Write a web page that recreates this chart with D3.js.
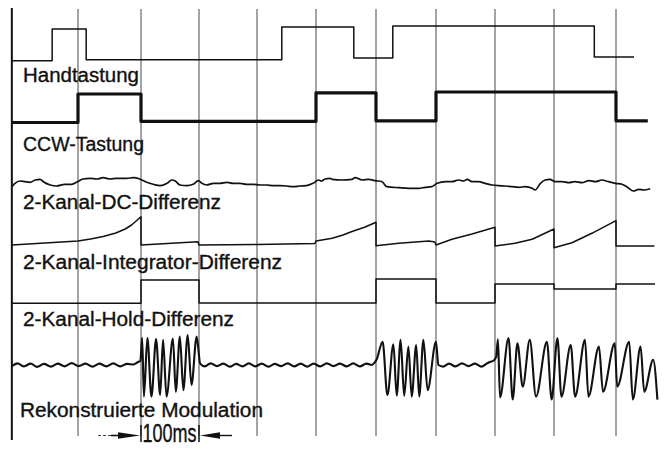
<!DOCTYPE html>
<html>
<head>
<meta charset="utf-8">
<script src="https://cdn.jsdelivr.net/npm/d3@7"></script>
<style>
body { margin: 0; background: #fff; }
svg { display: block; }
text { font-family: "Liberation Sans", Arial, sans-serif; fill: #111; stroke: #111; stroke-width: 0.35px; }
</style>
</head>
<body>
<div id="container"></div>
<script>
// one grid division = 100 ms
var gridTimes = [100, 200, 300, 400, 500, 600, 700, 800, 900, 1000];

// Handtastung (thin key signal), edge times and levels
var handEdges = [-5, 59, 113, 442, 563, 628, 965, 1030];
var handLevels = [0.01, 1.0, 0.04, 1.06, 0.09, 1.09, 0.125];

// CCW-Tastung (thick key signal)
var ccwEdges = [-5, 100, 200, 500, 600, 700, 1000, 1053];
var ccwLevels = [0, 1.0, 0.04, 1.04, 0.06, 1.07, 0.06];

// 2-Kanal-DC-Differenz
var dcTimes = [-5,0,8,16,24,32,40,45,56,66,79,90,99,108,119,130,140,151,161,177,
    188,198,210,221,233,245,253,259,267,279,290,299,305,313,325,336,348,359,371,382,
    394,405,416,428,439,450,461,473,484,495,504,509,515,523,527,543,560,565,577,588,
    599,610,618,638,655,671,682,693,702,716,727,738,747,753,761,772,783,795,806,817,
    829,840,851,863,868,877,885,893,902,913,924,934,945,956,967,977,988,999,1010,1018,
    1029,1038,1046,1057];
var dcValues = [13.3,16.7,19,18.3,17.7,20,20.7,18.3,15,14,15.7,15.7,18.3,21,21.7,21,22.3,21,21.7,21.7,
    22.3,21,17.7,15.7,14.3,16.7,20,19,15,14.3,15.7,19.3,16.7,15,16.7,16.7,17.7,16.7,16.7,15.7,
    15.7,15,15,14.3,14.3,14,13.3,14,14.3,16.7,20,19,21,21.7,20.7,20,20.7,22.3,20,20.7,
    19.3,18.3,13.3,12.3,11.7,11.7,12.7,13.3,16.7,18.3,18.3,20,19,20.7,18.3,18.3,16.7,15,14.3,14,
    13.3,12.7,13.3,11.7,10,16.7,20,20.7,18.3,18.3,17.3,18.3,17.3,19.3,18.3,20,18.3,16.7,15.7,13.3,
    9,10.7,10,11.3];

// 2-Kanal-Integrator-Differenz
var intTimes = [-5,100,120,140,160,175,185,195,200,200,298,300,400,498,500,527,545,560,582,600,
    600,638,688,698,700,727,761,800,800,834,863,900,900,929,961,1000,1000,1064];
var intValues = [5,9,11,13.5,17,21,25,30.5,33.3,5,8.3,5,5.5,6.5,9,11.7,15,18.5,23,27.7,
    4.3,6.7,9,8,5,10.7,16,22.7,4,6.7,10.7,21,2.3,7.3,16.7,29.3,4,4];

// 2-Kanal-Hold-Differenz
var holdEdges = [-5, 200, 300, 600, 700, 800, 900, 1000, 1065];
var holdLevels = [6.7, 30, 7, 31, 7, 26, 21, 26];

// Rekonstruierte Modulation
var modTimes = [-5,4,14,25,35,46,57,68,79,90,101,112,123,134,145,156,167,178,188,196,
    199,202,205,211,218,226,233,238,244,255,260,267,273,280.5,287,296,302,
    310,320,331,342,353,364,375,386,397,408,419,430,441,452,463,474,485,496,507,518,529,540,551,562,573,584,593,598,
    601,611,619,629,634.5,641,647,654,659.5,667,672,679,686,700,704,
    712,722,733,744,755,766,777,786,792,
    797,802,805,808.5,823,830,838,847,859,869.5,888,896,905.5,912,927,934,950,955.5,972.5,979,998,1002,1022,1028,1041,1047,1062,1069];
var modValues = [-0.04,0.06,-0.05,0.05,-0.07,0.04,-0.06,0.05,-0.05,0.07,-0.04,0.05,-0.06,0.05,-0.05,0.06,-0.05,0.04,0.02,0.12,
    0.15,1.01,-1.17,1.01,-1.17,0.96,-1.11,0.93,-1.17,0.98,-0.99,1.05,-0.93,1.11,-0.74,1.05,0.05,
    -0.05,0.06,-0.04,0.05,-0.06,0.04,-0.05,0.06,-0.05,0.05,-0.06,0.04,-0.04,0.06,-0.05,0.05,-0.06,0.05,-0.05,0.06,-0.04,0.05,-0.05,0.06,-0.05,0.05,0.0,0.1,
    0.2,0.86,-1.11,0.77,-1.14,0.93,-1.14,0.68,-1.17,0.74,-1.17,0.93,-0.93,0.86,0.0,
    -0.06,0.05,-0.05,0.06,-0.04,0.05,-0.06,0.05,0.12,
    0.15,0.3,0.95,-1.2,1.0,-1.28,0.8,-0.8,0.93,-1.17,0.86,-1.28,1.0,-1.17,0.74,-1.17,0.93,-1.17,0.68,-0.99,0.8,-0.8,0.86,-1.28,0.68,-0.99,0.19,-1.28];

var labels = ["Handtastung", "CCW-Tastung", "2-Kanal-DC-Differenz",
    "2-Kanal-Integrator-Differenz", "2-Kanal-Hold-Differenz", "Rekonstruierte Modulation"];
var scaleLabel = "100ms";

//////////////////////////////////////////////////////////////
var width = 664, height = 453;

// time scale, follows the recorder's grid (slightly uneven scan)
var x = d3.scaleLinear()
    .domain([0].concat(gridTimes).concat([1100]))
    .range([15, 78, 141, 199, 257, 316, 376, 436, 495, 554, 616, 676]);

// one y scale per trace
var yHand = d3.scaleLinear().domain([0, 1]).range([61, 29]);
var yCcw = d3.scaleLinear().domain([0, 1]).range([122.5, 94]);
var yDc = d3.scaleLinear().domain([0, 30]).range([200, 170]);
var yInt = d3.scaleLinear().domain([0, 30]).range([250, 220]);
var yHold = d3.scaleLinear().domain([0, 30]).range([310, 280]);
var yMod = d3.scaleLinear().domain([-1, 1]).range([392, 338]);

var svg = d3.select("#container").append("svg")
    .attr("width", width)
    .attr("height", height);

svg.append("rect").attr("width", width).attr("height", height).attr("fill", "#fff");

// grid lines
svg.append("g").selectAll("line")
    .data(gridTimes)
    .enter().append("line")
    .attr("x1", function (d) { return x(d); })
    .attr("x2", function (d) { return x(d); })
    .attr("y1", 9)
    .attr("y2", 436)
    .attr("stroke", "#333")
    .attr("stroke-width", 0.9);

// left border
svg.append("line")
    .attr("x1", x(-5)).attr("x2", x(-5))
    .attr("y1", 8).attr("y2", 440)
    .attr("stroke", "#111")
    .attr("stroke-width", 2);

function steps(edges, levels) {
    var pts = levels.map(function (v, i) { return [edges[i], v]; });
    pts.push([edges[edges.length - 1], levels[levels.length - 1]]);
    return pts;
}

function trace(data, yScale, curve, w) {
    var line = d3.line()
        .x(function (d) { return x(d[0]); })
        .y(function (d) { return yScale(d[1]); })
        .curve(curve);
    svg.append("path")
        .datum(data)
        .attr("d", line)
        .attr("fill", "none")
        .attr("stroke", "#111")
        .attr("stroke-width", w)
        .attr("stroke-linejoin", "round");
}

trace(steps(handEdges, handLevels), yHand, d3.curveStepAfter, 1.5);
trace(steps(ccwEdges, ccwLevels), yCcw, d3.curveStepAfter, 3.2);
trace(d3.zip(dcTimes, dcValues), yDc, d3.curveMonotoneX, 1.7);
trace(d3.zip(intTimes, intValues), yInt, d3.curveLinear, 1.5);
trace(steps(holdEdges, holdLevels), yHold, d3.curveStepAfter, 1.5);
trace(d3.zip(modTimes, modValues), yMod, d3.curveMonotoneX, 2.1);

// labels
var labelPos = [
    { y: 82, len: 116 },
    { y: 150.5, len: 121 },
    { y: 209, len: 198 },
    { y: 268.5, len: 259 },
    { y: 326, len: 211 },
    { y: 416.5, len: 243 }
];
svg.append("g").selectAll("text")
    .data(labels)
    .enter().append("text")
    .attr("x", function (d, i) { return i == 5 ? 20 : 23; })
    .attr("y", function (d, i) { return labelPos[i].y; })
    .attr("font-size", 19.5)
    .attr("textLength", function (d, i) { return labelPos[i].len; })
    .attr("lengthAdjust", "spacingAndGlyphs")
    .text(function (d) { return d; });

// 100 ms marker
var m0 = x(200), m1 = x(300), my = 435.5;
var mk = svg.append("g").attr("stroke", "#111").attr("fill", "#111");
mk.append("line").attr("x1", m0).attr("x2", m0).attr("y1", 425).attr("y2", 442).attr("stroke-width", 1.5);
mk.append("line").attr("x1", m1).attr("x2", m1).attr("y1", 425).attr("y2", 442).attr("stroke-width", 1.5);
mk.append("line").attr("x1", m0 - 43).attr("x2", m0 - 30).attr("y1", my).attr("y2", my)
    .attr("stroke-width", 0.8).attr("stroke-dasharray", "3,2");
mk.append("line").attr("x1", m0 - 30).attr("x2", m0 - 15).attr("y1", my).attr("y2", my).attr("stroke-width", 1.6);
mk.append("path").attr("stroke", "none")
    .attr("d", "M" + (m0 - 23) + "," + (my - 3.2) + "L" + (m0 - 1) + "," + my + "L" + (m0 - 23) + "," + (my + 3.2) + "Z");
mk.append("path").attr("stroke", "none")
    .attr("d", "M" + (m1 + 21) + "," + (my - 3.2) + "L" + (m1 + 1) + "," + my + "L" + (m1 + 21) + "," + (my + 3.2) + "Z");
mk.append("line").attr("x1", m1 + 15).attr("x2", m1 + 33).attr("y1", my).attr("y2", my).attr("stroke-width", 1.4);

svg.append("text")
    .attr("x", m0 + 1.5)
    .attr("y", 441.5)
    .attr("font-size", 25)
    .attr("textLength", 54)
    .attr("lengthAdjust", "spacingAndGlyphs")
    .text(scaleLabel);
</script>
</body>
</html>
